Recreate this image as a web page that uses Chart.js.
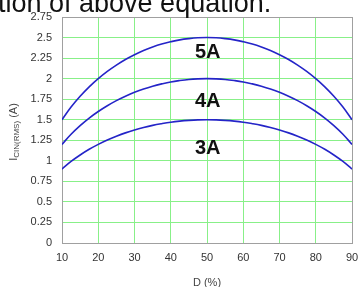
<!DOCTYPE html>
<html><head><meta charset="utf-8">
<script src="https://cdn.jsdelivr.net/npm/chart.js@4/dist/chart.umd.min.js"></script>
<style>
html,body{margin:0;padding:0;background:#fff;overflow:hidden;}
#wrap{position:relative;width:358px;height:287px;}
#cap{position:absolute;left:-2px;top:-12px;font-family:"Liberation Sans",Arial,sans-serif;font-size:27px;line-height:normal;color:#111;white-space:nowrap;z-index:2;}
canvas{position:absolute;left:0;top:0;}
</style></head><body>
<div id="wrap"><div id="cap">tion of above equation.</div><canvas id="c" width="358" height="287"></canvas></div>
<script>
const dutyPct = [10,12.5,15,17.5,20,22.5,25,27.5,30,32.5,35,37.5,40,42.5,45,47.5,50,52.5,55,57.5,60,62.5,65,67.5,70,72.5,75,77.5,80,82.5,85,87.5,90];
const i5A = [1.500,1.654,1.785,1.900,2.000,2.088,2.165,2.233,2.291,2.342,2.385,2.421,2.449,2.472,2.487,2.497,2.500,2.497,2.487,2.472,2.449,2.421,2.385,2.342,2.291,2.233,2.165,2.088,2.000,1.900,1.785,1.654,1.500];
const i4A = [1.200,1.323,1.428,1.520,1.600,1.670,1.732,1.786,1.833,1.874,1.908,1.936,1.960,1.977,1.990,1.997,2.000,1.997,1.990,1.977,1.960,1.936,1.908,1.874,1.833,1.786,1.732,1.670,1.600,1.520,1.428,1.323,1.200];
const i3A = [0.900,0.992,1.071,1.140,1.200,1.253,1.299,1.340,1.375,1.405,1.431,1.452,1.470,1.483,1.492,1.498,1.500,1.498,1.492,1.483,1.470,1.452,1.431,1.405,1.375,1.340,1.299,1.253,1.200,1.140,1.071,0.992,0.900];
const seriesNames = ['5A','4A','3A'];
const labelX = [50.2,50.2,50.2];
const labelY = [2.32,1.72,1.15];
const yTitle = ['I','CIN(RMS)',' (A)'];
const xTitle = 'D (%)';

const FONT = '"Liberation Sans", Arial, sans-serif';
const mk = arr => dutyPct.map((d,i)=>({x:d,y:arr[i]}));
const BLUE = '#2424c8';

const annot = {
  id:'annot',
  afterDatasetsDraw(chart){
    const {ctx, scales:{x,y}} = chart;
    ctx.save();
    ctx.fillStyle = '#111';
    ctx.font = 'bold 20px ' + FONT;
    ctx.textAlign = 'center'; ctx.textBaseline = 'middle';
    seriesNames.forEach((n,i)=>ctx.fillText(n, x.getPixelForValue(labelX[i]), y.getPixelForValue(labelY[i])));
    ctx.fillStyle = '#444';
    ctx.font = '11px ' + FONT;
    ctx.textBaseline = 'alphabetic';
    ctx.fillText(xTitle, (x.left+x.right)/2, 286);
    ctx.translate(17, (y.top+y.bottom)/2 + 2);
    ctx.rotate(-Math.PI/2);
    const f1 = '11px ' + FONT, f2 = '8px ' + FONT;
    ctx.font = f1; const w0 = ctx.measureText(yTitle[0]).width;
    ctx.font = f2; const w1 = ctx.measureText(yTitle[1]).width;
    ctx.font = f1; const w2 = ctx.measureText(yTitle[2]).width;
    let sx = -(w0+w1+w2)/2;
    ctx.textAlign = 'left';
    ctx.font = f1; ctx.fillText(yTitle[0], sx, 0); sx += w0;
    ctx.font = f2; ctx.fillText(yTitle[1], sx, 1.5); sx += w1;
    ctx.font = f1; ctx.fillText(yTitle[2], sx, 0);
    ctx.restore();
  }
};

const GREEN = '#88f088';
const GRAY = '#a0a0a0';
new Chart(document.getElementById('c'), {
  type:'line',
  data:{datasets:[
    {data:mk(i5A)},{data:mk(i4A)},{data:mk(i3A)}
  ].map(d=>Object.assign(d,{borderColor:BLUE,borderWidth:1.6,pointRadius:0,tension:0.4,fill:false}))},
  options:{
    responsive:false, animation:false, devicePixelRatio:1,
    layout:{padding:{left:0,right:6,top:17,bottom:0}},
    plugins:{legend:{display:false},tooltip:{enabled:false}},
    scales:{
      x:{type:'linear',min:10,max:90,
        ticks:{stepSize:10,padding:8,color:'#333',font:{family:FONT,size:11}},
        grid:{drawTicks:false,color:c=>(c.tick && (c.tick.value===10||c.tick.value===90))?GRAY:GREEN,lineWidth:1},
        border:{display:true,color:GRAY,width:1},
        afterFit(s){s.height=44;s.paddingRight=0;s.paddingLeft=0;}
      },
      y:{min:0,max:2.75,
        ticks:{stepSize:0.25,padding:10,color:'#333',font:{family:FONT,size:11},callback:v=>String(Math.round(v*100)/100)},
        grid:{drawTicks:false,color:c=>(c.tick && (c.tick.value===0||c.tick.value===2.75))?GRAY:GREEN,lineWidth:1},
        border:{display:true,color:GRAY,width:1},
        afterFit(s){s.width=62;s.paddingTop=0;s.paddingBottom=0;}
      }
    }
  },
  plugins:[annot]
});
</script>
</body></html>
